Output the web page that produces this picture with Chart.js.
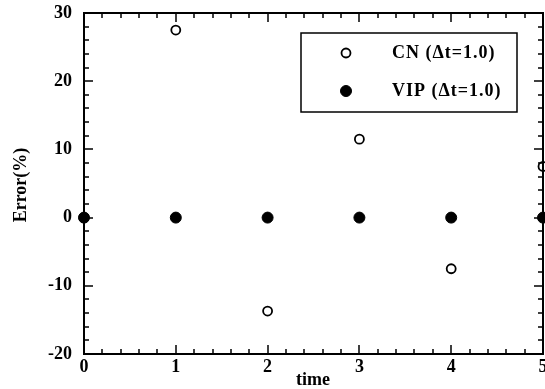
<!DOCTYPE html>
<html><head><meta charset="utf-8">
<script src="https://cdn.jsdelivr.net/npm/chart.js@4.4.0/dist/chart.umd.min.js"></script>
<style>html,body{margin:0;padding:0;background:#fff}#wrap{width:545px;height:389px}</style>
</head><body><div id="wrap"><canvas id="c" width="545" height="389"></canvas></div>
<script>
const times = [0, 1, 2, 3, 4, 5];
const cnValues = [0, 27.5, -13.7, 11.5, -7.5, 7.5];
const vipValues = [0, 0, 0, 0, 0, 0];
const seriesLabels = ['CN (\u0394t=1.0)', 'VIP (\u0394t=1.0)'];
const yTicks = [-20, -10, 0, 10, 20, 30];
const xTicks = [0, 1, 2, 3, 4, 5];
const xTitle = 'time';
const yTitle = 'Error(%)';

const FONT = '"Liberation Serif", "DejaVu Serif", serif';

const decor = {
  id: 'decor',
  afterDraw(chart) {
    const ctx = chart.ctx, a = chart.chartArea;
    const xs = chart.scales.x, ys = chart.scales.y;
    ctx.save();
    ctx.strokeStyle = '#000';
    ctx.lineWidth = 2;
    ctx.strokeRect(a.left, a.top, a.right - a.left, a.bottom - a.top);
    ctx.lineWidth = 1.5;
    for (let v = 0; v <= 5.0001; v += 0.2) {
      const px = Math.round(xs.getPixelForValue(v));
      const major = Math.abs(v - Math.round(v)) < 1e-6;
      const L = major ? 9 : 5;
      ctx.beginPath();
      ctx.moveTo(px, a.bottom); ctx.lineTo(px, a.bottom - L);
      ctx.moveTo(px, a.top); ctx.lineTo(px, a.top + L);
      ctx.stroke();
    }
    for (let v = -20; v <= 30; v += 2) {
      const py = Math.round(ys.getPixelForValue(v));
      const major = v % 10 === 0;
      const L = major ? 9 : 5;
      ctx.beginPath();
      ctx.moveTo(a.left, py); ctx.lineTo(a.left + L, py);
      ctx.moveTo(a.right, py); ctx.lineTo(a.right - L, py);
      ctx.stroke();
    }
    ctx.fillStyle = '#000';
    ctx.font = 'bold 18px ' + FONT;
    ctx.textAlign = 'center';
    ctx.textBaseline = 'middle';
    ctx.fillText(xTitle, 313, 380);
    ctx.save();
    ctx.translate(21, 185);
    ctx.rotate(-Math.PI / 2);
    ctx.font = 'bold 18px ' + FONT;
    ctx.fillText(yTitle, 0, 0);
    ctx.restore();
    ctx.lineWidth = 1.5;
    ctx.strokeRect(301, 33, 216, 79);
    const rows = [53, 91];
    chart.data.datasets.forEach((ds, i) => {
      const y = rows[i];
      ctx.beginPath();
      ctx.arc(346, y, ds.pointRadius, 0, Math.PI * 2);
      ctx.fillStyle = ds.pointBackgroundColor;
      ctx.fill();
      ctx.lineWidth = ds.pointBorderWidth;
      ctx.strokeStyle = '#000';
      ctx.stroke();
      ctx.fillStyle = '#000';
      ctx.font = 'bold 18px ' + FONT;
      ctx.letterSpacing = '1px';
      ctx.textAlign = 'left';
      ctx.fillText(ds.label, 392, y);
      ctx.letterSpacing = '0px';
    });
    ctx.restore();
  }
};

new Chart(document.getElementById('c'), {
  type: 'scatter',
  data: {
    datasets: [
      { label: seriesLabels[0], data: times.map((t, i) => ({x: t, y: cnValues[i]})), order: 1, clip: false,
        pointRadius: 4.5, pointBorderWidth: 1.8, pointBackgroundColor: '#fff', pointBorderColor: '#000', showLine: false },
      { label: seriesLabels[1], data: times.map((t, i) => ({x: t, y: vipValues[i]})), order: 0, clip: false,
        pointRadius: 5.5, pointBorderWidth: 1, pointBackgroundColor: '#000', pointBorderColor: '#000', showLine: false }
    ]
  },
  options: {
    responsive: false, animation: false,
    layout: { autoPadding: false, padding: { top: 13, right: 2, left: 0, bottom: 0 } },
    plugins: { legend: { display: false }, tooltip: { enabled: false } },
    scales: {
      x: {
        type: 'linear', min: 0, max: 5,
        afterBuildTicks: s => { s.ticks = xTicks.map(v => ({value: v})); },
        afterFit: s => { s.height = 35; s.paddingLeft = 0; s.paddingRight = 0; },
        grid: { display: false, drawTicks: false }, border: { display: false },
        ticks: { color: '#000', padding: 3, font: { family: FONT, size: 18, weight: 'bold' }, maxRotation: 0 }
      },
      y: {
        type: 'linear', min: -20, max: 30,
        afterBuildTicks: s => { s.ticks = yTicks.map(v => ({value: v})); },
        afterFit: s => { s.width = 84; s.paddingTop = 0; s.paddingBottom = 0; },
        grid: { display: false, drawTicks: false }, border: { display: false },
        ticks: { color: '#000', padding: 12, font: { family: FONT, size: 18, weight: 'bold' } }
      }
    }
  },
  plugins: [decor]
});
</script></body></html>
